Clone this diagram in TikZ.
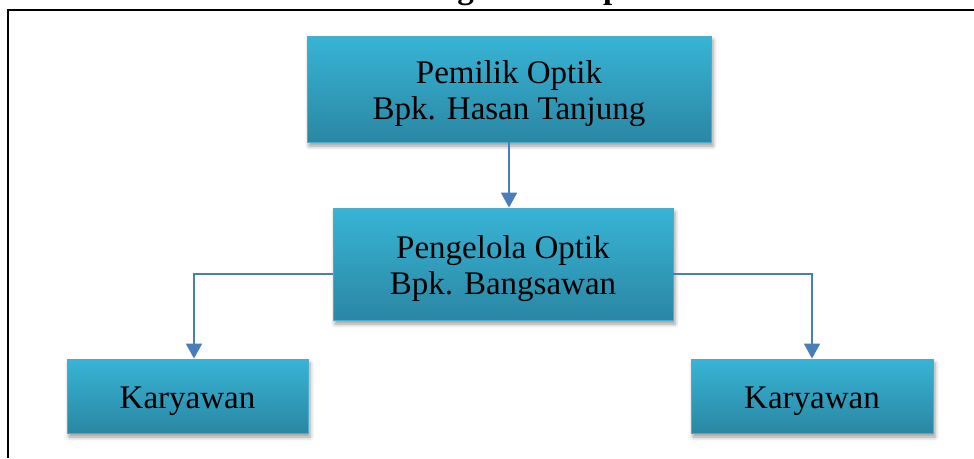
\documentclass[tikz,border=0pt]{standalone}
\usepackage{fontspec}
\setmainfont{Liberation Serif}
\usetikzlibrary{shadows.blur,arrows.meta}
\definecolor{boxtop}{HTML}{38B4D6}
\definecolor{boxbot}{HTML}{2A87A3}
\definecolor{boxline}{HTML}{4AAECB}
\definecolor{linkblue}{HTML}{4A7EBB}
% box label: centred lines, set slightly below the box's middle
\newcommand\boxlabel[1]{\raisebox{-5pt}[\height][\depth]{\begin{tabular}{@{}c@{}}#1\end{tabular}}}
\begin{document}
\begin{tikzpicture}[x=1pt,y=-1pt,
  orgbox/.style={rectangle, draw=boxline, line width=0.8pt,
    top color=boxtop, bottom color=boxbot, inner sep=0pt,
    font=\fontsize{33}{36}\selectfont, text=black,
    blur shadow={shadow xshift=2pt, shadow yshift=-4pt,
      shadow blur radius=4pt, shadow opacity=40}},
  conn/.style={draw=linkblue, line width=1.8pt,
    -{Triangle[length=15pt,width=16pt]}},
  frame/.style={draw=black, line width=2pt}]
\useasboundingbox (0,0) rectangle (974,458);

% page frame and heading (clipped by the page edge)
\draw[frame] (8,458) -- (8,10) -- (974,10);
\node[anchor=base west, inner sep=0pt, font=\fontsize{33}{37}\selectfont\bfseries]
  (title) at (284,-2) {Struktur Organisasi Optik};

% boxes
\node[orgbox, minimum width=404pt, minimum height=106pt] (owner) at (509,89)
  {\boxlabel{Pemilik Optik\\Bpk. Hasan Tanjung}};
\node[orgbox, minimum width=340pt, minimum height=112pt] (mgr) at (503,264)
  {\boxlabel{Pengelola Optik\\Bpk. Bangsawan}};
\node[orgbox, minimum width=241pt, minimum height=74pt] (staffL) at (187.5,396)
  {\boxlabel{Karyawan}};
\node[orgbox, minimum width=242pt, minimum height=74pt] (staffR) at (812,396)
  {\boxlabel{Karyawan}};

% connectors
\coordinate (kl) at (194,274);
\coordinate (kr) at (812,274);
\draw[conn] (owner.south) -- (owner.south |- mgr.north);
\draw[conn] (mgr.west |- kl) -| (staffL.north -| kl);
\draw[conn] (mgr.east |- kr) -| (staffR.north -| kr);
\end{tikzpicture}
\end{document}
